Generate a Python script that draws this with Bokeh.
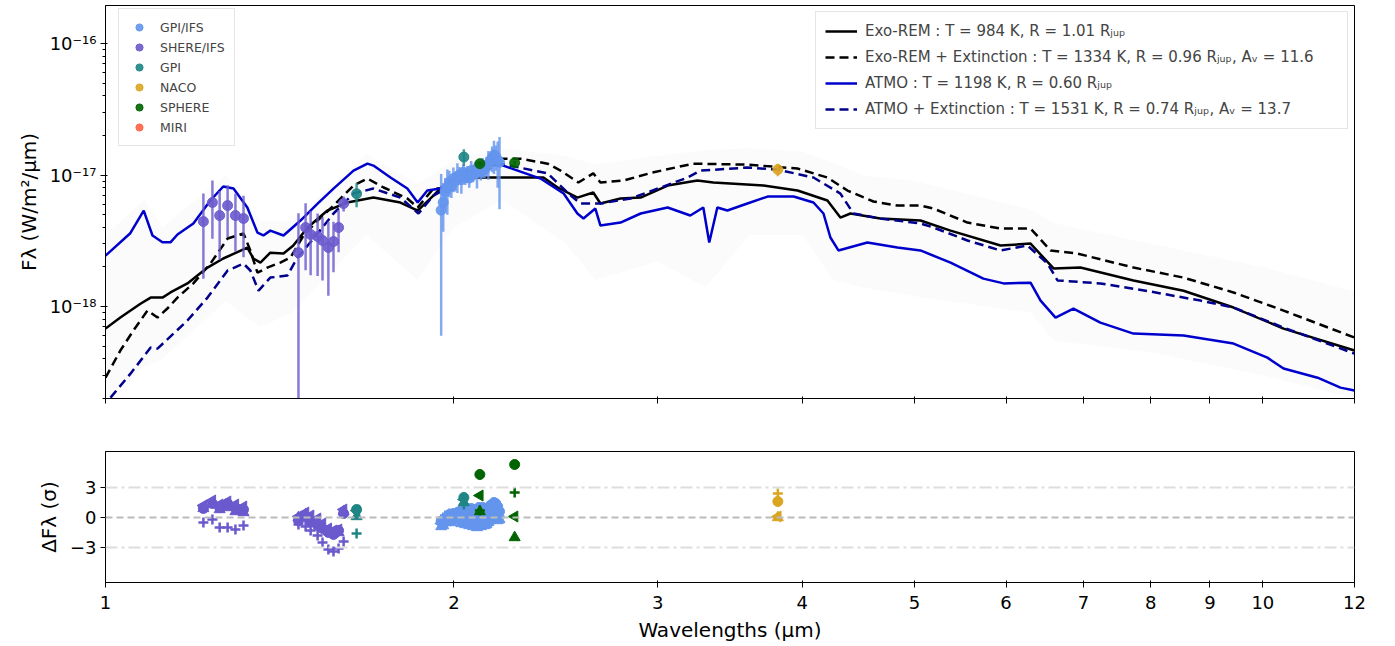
import numpy as np
from bokeh.plotting import figure
from bokeh.models import (Range1d, FixedTicker, CustomJSTickFormatter, Legend, LegendItem,
                          Span, ColumnDataSource)
from bokeh.layouts import column
from bokeh.embed import file_html
from bokeh.resources import INLINE

# ---------------- model spectra (wavelength in um, flux in W/m2/um) ----------------
exo_wl = [1.000, 1.030, 1.072, 1.094, 1.120, 1.138, 1.177, 1.225, 1.264, 1.326, 1.342, 1.361, 1.388,
          1.425, 1.453, 1.495, 1.555, 1.618, 1.704, 1.798, 1.861, 1.920, 1.950, 2.060, 2.390, 2.459,
          2.557, 2.639, 2.677, 2.786, 2.900, 3.060, 3.246, 3.351, 3.703, 3.962, 4.205, 4.315, 4.402,
          4.672, 5.060, 5.372, 5.934, 6.299, 6.594, 6.956, 7.730, 8.540, 9.433, 10.42, 12.0]
exo_f = [6.80e-19, 8.25e-19, 1.05e-18, 1.17e-18, 1.17e-18, 1.28e-18, 1.50e-18, 1.98e-18, 2.32e-18,
         2.81e-18, 2.32e-18, 2.16e-18, 2.57e-18, 2.53e-18, 2.91e-18, 3.99e-18, 5.37e-18, 6.18e-18,
         6.74e-18, 6.18e-18, 5.37e-18, 6.98e-18, 8.04e-18, 9.57e-18, 9.57e-18, 8.04e-18, 6.74e-18,
         7.36e-18, 6.07e-18, 6.63e-18, 6.74e-18, 8.32e-18, 9.08e-18, 8.77e-18, 8.32e-18, 7.62e-18,
         6.40e-18, 4.75e-18, 5.10e-18, 4.67e-18, 4.51e-18, 3.78e-18, 2.91e-18, 3.01e-18, 1.95e-18,
         1.98e-18, 1.58e-18, 1.32e-18, 9.83e-19, 6.80e-19, 4.63e-19]

exoext_wl = [1.000, 1.030, 1.057, 1.087, 1.109, 1.131, 1.154, 1.191, 1.232, 1.275, 1.316, 1.334, 1.353,
             1.380, 1.416, 1.445, 1.483, 1.525, 1.574, 1.638, 1.684, 1.739, 1.823, 1.861, 1.920, 1.947,
             2.050, 2.194, 2.284, 2.410, 2.473, 2.562, 2.639, 2.677, 2.803, 2.976, 3.220, 3.586, 3.962,
             4.205, 4.376, 4.608, 4.833, 5.060, 5.193, 5.556, 5.934, 6.299, 6.555, 6.915, 7.730, 8.540,
             9.433, 10.42, 12.0]
exoext_f = [2.88e-19, 4.63e-19, 6.57e-19, 9.32e-19, 8.25e-19, 9.66e-19, 1.17e-18, 1.50e-18, 2.12e-18,
            3.29e-18, 3.59e-18, 2.67e-18, 1.81e-18, 1.98e-18, 2.16e-18, 2.36e-18, 3.47e-18, 4.51e-18,
            5.86e-18, 8.32e-18, 9.40e-18, 8.04e-18, 6.63e-18, 5.66e-18, 7.89e-18, 7.89e-18, 1.10e-17,
            1.33e-17, 1.33e-17, 1.22e-17, 1.08e-17, 8.77e-18, 1.03e-17, 8.77e-18, 9.08e-18, 1.05e-17,
            1.22e-17, 1.20e-17, 1.12e-17, 9.57e-18, 7.62e-18, 6.29e-18, 5.86e-18, 5.86e-18, 5.56e-18,
            4.35e-18, 3.92e-18, 3.92e-18, 2.67e-18, 2.53e-18, 1.98e-18, 1.66e-18, 1.28e-18, 9.32e-19,
            5.81e-19]

atmo_wl = [1.000, 1.050, 1.079, 1.098, 1.120, 1.138, 1.154, 1.191, 1.232, 1.264, 1.290, 1.326, 1.353,
           1.369, 1.388, 1.425, 1.474, 1.525, 1.574, 1.638, 1.684, 1.704, 1.763, 1.823, 1.861, 1.897,
           1.947, 2.000, 2.109, 2.194, 2.376, 2.488, 2.557, 2.588, 2.650, 2.677, 2.786, 2.900, 3.060,
           3.201, 3.285, 3.324, 3.378, 3.446, 3.586, 3.733, 3.931, 4.090, 4.172, 4.230, 4.298, 4.553,
           4.833, 5.060, 5.372, 5.735, 5.970, 6.299, 6.426, 6.620, 6.860, 7.238, 7.730, 8.540, 9.433,
           10.09, 10.42, 11.15, 11.67, 12.0]
atmo_f = [2.44e-18, 3.59e-18, 5.37e-18, 3.47e-18, 3.08e-18, 3.08e-18, 3.53e-18, 4.28e-18, 6.40e-18,
          8.18e-18, 7.89e-18, 5.66e-18, 3.65e-18, 3.47e-18, 3.78e-18, 3.47e-18, 4.51e-18, 6.07e-18,
          7.89e-18, 1.08e-17, 1.22e-17, 1.18e-17, 9.57e-18, 7.89e-18, 6.18e-18, 7.62e-18, 7.89e-18,
          9.40e-18, 1.16e-17, 1.20e-17, 9.40e-18, 7.23e-18, 5.10e-18, 4.67e-18, 5.56e-18, 4.13e-18,
          4.35e-18, 5.10e-18, 5.66e-18, 4.92e-18, 5.66e-18, 3.07e-18, 5.66e-18, 5.37e-18, 6.07e-18,
          6.86e-18, 6.86e-18, 6.18e-18, 5.10e-18, 3.35e-18, 2.67e-18, 3.07e-18, 2.81e-18, 2.67e-18,
          2.16e-18, 1.63e-18, 1.50e-18, 1.52e-18, 1.11e-18, 8.25e-19, 9.66e-19, 7.55e-19, 6.23e-19,
          6.02e-19, 5.23e-19, 4.09e-19, 3.38e-19, 2.88e-19, 2.42e-19, 2.30e-19]

atmoext_wl = [1.010, 1.051, 1.094, 1.109, 1.177, 1.225, 1.275, 1.316, 1.334, 1.356, 1.388, 1.436, 1.465,
              1.513, 1.574, 1.638, 1.704, 1.798, 1.864, 1.920, 2.050, 2.194, 2.410, 2.507, 2.572, 2.677,
              2.842, 3.018, 3.184, 3.266, 3.586, 3.808, 4.090, 4.315, 4.428, 4.672, 5.060, 5.193, 5.556,
              5.934, 6.261, 6.516, 6.646, 7.238, 7.996, 8.834, 9.433, 10.42, 12.0]
atmoext_f = [2.03e-19, 3.09e-19, 4.88e-19, 4.79e-19, 7.83e-19, 1.17e-18, 1.88e-18, 2.12e-18, 1.88e-18,
             1.32e-18, 1.66e-18, 1.72e-18, 2.36e-18, 3.29e-18, 5.10e-18, 7.23e-18, 7.89e-18, 6.74e-18,
             5.10e-18, 6.98e-18, 9.50e-18, 1.22e-17, 1.03e-17, 7.36e-18, 6.07e-18, 6.07e-18, 6.63e-18,
             8.04e-18, 9.57e-18, 1.08e-17, 1.14e-17, 1.10e-17, 9.57e-18, 7.23e-18, 5.10e-18, 4.67e-18,
             4.28e-18, 3.99e-18, 3.18e-18, 2.67e-18, 2.91e-18, 2.12e-18, 1.58e-18, 1.50e-18, 1.30e-18,
             1.11e-18, 9.83e-19, 6.92e-19, 4.39e-19]

# spread of the sampled models (faint envelope)
band_wl = [1.0, 1.08, 1.12, 1.27, 1.36, 1.45, 1.68, 1.86, 2.0, 2.2, 2.5, 2.65, 3.0, 3.3, 3.6, 4.0,
           4.25, 4.5, 5.0, 6.3, 6.6, 8.0, 10.0, 12.0]
band_hi = [3.5e-18, 6.5e-18, 4.0e-18, 1.0e-17, 4.5e-18, 4.5e-18, 1.45e-17, 8.5e-18, 1.3e-17, 1.6e-17,
           1.4e-17, 1.2e-17, 1.4e-17, 1.55e-17, 1.6e-17, 1.5e-17, 1.25e-17, 1.0e-17, 9.0e-18, 5.5e-18,
           4.3e-18, 3.0e-18, 2.0e-18, 1.3e-18]
band_lo = [2.0e-19, 3.5e-19, 4.0e-19, 1.1e-18, 7.0e-19, 9.0e-19, 3.5e-18, 1.6e-18, 4.0e-18, 6.5e-18,
           3.0e-18, 1.6e-18, 2.2e-18, 1.4e-18, 3.5e-18, 3.5e-18, 1.6e-18, 1.4e-18, 1.2e-18, 9.0e-19,
           5.5e-19, 4.5e-19, 3.0e-19, 2.0e-19]

# ---------------- observations ----------------
gpiifs_wl = [1.950, 1.958, 1.966, 1.974, 1.982, 1.990, 1.998, 2.006, 2.014, 2.022, 2.030, 2.038, 2.046,
             2.054, 2.062, 2.070, 2.078, 2.086, 2.094, 2.102, 2.110, 2.118, 2.126, 2.134, 2.142, 2.150,
             2.158, 2.166, 2.174, 2.182, 2.190]
gpiifs_flux = [5.4e-18, 6.2e-18, 7.5e-18, 8.0e-18, 8.8e-18, 8.2e-18, 9.4e-18, 9.0e-18, 9.8e-18, 1.00e-17,
               9.2e-18, 1.05e-17, 9.6e-18, 1.02e-17, 9.5e-18, 1.08e-17, 1.00e-17, 1.10e-17, 1.04e-17,
               1.12e-17, 1.06e-17, 1.15e-17, 1.10e-17, 1.18e-17, 1.22e-17, 1.28e-17, 1.35e-17, 1.42e-17,
               1.38e-17, 1.30e-17, 1.25e-17]
gpiifs_err = [4.8e-18, 2.5e-18, 2.0e-18, 3.0e-18, 2.0e-18, 1.5e-18, 2.0e-18, 1.5e-18, 2.5e-18, 1.5e-18,
              2.0e-18, 1.5e-18, 1.2e-18, 1.5e-18, 1.5e-18, 2.0e-18, 1.2e-18, 1.5e-18, 2.5e-18, 1.5e-18,
              1.5e-18, 2.0e-18, 1.5e-18, 2.0e-18, 3.0e-18, 2.0e-18, 3.0e-18, 4.0e-18, 3.0e-18, 5.0e-18,
              7.0e-18]
gpiifs_res_exo = [-0.4, -0.3, -0.1, 0.0, 0.3, 0.1, 0.4, 0.2, 0.5, 0.6, 0.2, 0.7, 0.4, 0.6, 0.3, 0.9,
                  0.5, 0.8, 0.6, 1.0, 0.7, 1.0, 0.8, 0.9, 1.0, 1.2, 1.3, 1.5, 1.4, 1.1, 0.6]
gpiifs_res_exoext = [-0.9, -0.8, -0.5, -0.4, -0.2, -0.5, -0.1, -0.3, 0.0, -0.2, -0.6, -0.3, -0.7, -0.4,
                     -0.8, -0.5, -0.9, -0.6, -1.0, -0.7, -0.9, -0.6, -0.8, -0.7, -0.5, -0.3, -0.2, 0.0,
                     -0.1, -0.3, -0.2]
gpiifs_res_atmo = [-0.2, 0.0, 0.2, 0.1, 0.4, 0.1, 0.3, 0.0, 0.2, 0.3, -0.1, 0.2, -0.2, 0.1, -0.3, 0.0,
                   -0.4, -0.1, -0.5, -0.2, -0.4, -0.1, -0.3, -0.2, 0.0, 0.2, 0.4, 0.6, 0.5, 0.3, 0.1]
gpiifs_res_atmoext = [-0.6, -0.4, -0.2, -0.3, 0.0, -0.2, 0.1, -0.1, 0.2, 0.0, -0.3, 0.1, -0.4, -0.1,
                      -0.5, -0.2, -0.6, -0.3, -0.7, -0.4, -0.6, -0.3, -0.5, -0.4, -0.2, 0.1, 0.3, 0.5,
                      0.4, 0.2, 0.0]

sphereifs_wl = [1.215, 1.237, 1.255, 1.275, 1.295, 1.316, 1.468, 1.489, 1.504, 1.525, 1.540, 1.558,
                1.574, 1.590, 1.606]
sphereifs_flux = [4.43e-18, 6.18e-18, 4.92e-18, 5.86e-18, 4.92e-18, 4.67e-18, 2.57e-18, 3.99e-18,
                  3.53e-18, 3.41e-18, 3.18e-18, 2.81e-18, 3.12e-18, 3.99e-18, 6.07e-18]
sphereifs_err = [2.8e-18, 2.9e-18, 2.65e-18, 2.5e-18, 2.3e-18, 2.3e-18, 2.55e-18, 2.1e-18, 1.8e-18,
                 1.7e-18, 1.6e-18, 1.6e-18, 1.3e-18, 1.4e-18, 0.8e-18]
sphereifs_res_exo = [0.9, 1.4, 1.0, 1.4, 1.0, 0.8, -0.3, 0.1, -0.4, -0.8, -1.1, -1.5, -1.7, -1.3, 0.4]
sphereifs_res_exoext = [0.9, 1.3, 0.8, 1.0, 0.6, 0.5, 0.0, 0.3, -0.1, -0.6, -1.0, -1.4, -1.6, -1.5, 0.6]
sphereifs_res_atmo = [-0.5, -0.2, -1.0, -1.0, -1.2, -0.8, -0.7, -0.9, -1.3, -1.8, -2.5, -3.2, -3.4,
                      -3.1, -2.4]
sphereifs_res_atmoext = [1.2, 1.7, 1.3, 1.6, 1.3, 1.1, 0.1, 0.5, 0.2, -0.1, -0.6, -1.1, -1.3, -1.2, 0.8]

gpi_wl = [1.648, 2.040]
gpi_flux = [7.2e-18, 1.37e-17]
gpi_err = [1.5e-18, 2.0e-18]
gpi_res_exo = [0.8, 2.0]
gpi_res_exoext = [0.1, 1.5]
gpi_res_atmo = [-1.6, 1.3]
gpi_res_atmoext = [0.7, 1.8]

naco_wl = [3.81]
naco_flux = [1.10e-17]
naco_err = [1.2e-18]
naco_res_exo = [1.6]
naco_res_exoext = [0.0]
naco_res_atmo = [2.4]
naco_res_atmoext = [0.1]

sphere_wl = [2.106, 2.257]
sphere_flux = [1.22e-17, 1.24e-17]
sphere_err = [4.0e-19, 4.0e-19]
sphere_res_exo = [4.3, 5.3]
sphere_res_exoext = [0.6, -2.0]
sphere_res_atmo = [0.7, 2.5]
sphere_res_atmoext = [2.2, 0.1]

x_ticks = [1, 2, 3, 4, 5, 6, 7, 8, 9, 10, 12]
res_ticks = [-3, 0, 3]

model_labels = [
    "Exo-REM : T = 984 K, R = 1.01 R\u2c7c\u1d64\u209a",
    "Exo-REM + Extinction : T = 1334 K, R = 0.96 R\u2c7c\u1d64\u209a, A\u1d65 = 11.6",
    "ATMO : T = 1198 K, R = 0.60 R\u2c7c\u1d64\u209a",
    "ATMO + Extinction : T = 1531 K, R = 0.74 R\u2c7c\u1d64\u209a, A\u1d65 = 13.7",
]

FONT = "DejaVu Sans"

xr = Range1d(1, 12)
p1 = figure(x_axis_type="log", y_axis_type="log", x_range=xr, y_range=Range1d(2.0e-19, 1.945e-16),
            frame_width=1249, frame_height=393, min_border_left=105, min_border_right=30,
            min_border_top=5, min_border_bottom=20, output_backend="svg", toolbar_location=None)
p2 = figure(x_axis_type="log", x_range=xr, y_range=Range1d(-6.5, 6.6),
            frame_width=1249, frame_height=131, min_border_left=105, min_border_right=30,
            min_border_top=33, min_border_bottom=58, output_backend="svg", toolbar_location=None)

for p in (p1, p2):
    p.grid.visible = False
    p.outline_line_color = "black"
    p.outline_line_alpha = 1
    p.outline_line_width = 1
    p.background_fill_color = "white"
    p.border_fill_color = "white"
    p.xaxis.ticker = FixedTicker(ticks=x_ticks, minor_ticks=[])
    for ax in (p.xaxis, p.yaxis):
        ax.axis_line_color = "black"
        ax.major_tick_line_color = "black"
        ax.minor_tick_line_color = "black"
        ax.major_label_text_font = FONT
        ax.major_label_text_font_size = "18px"
        ax.major_label_text_color = "black"
        ax.axis_label_text_font = FONT
        ax.axis_label_text_font_size = "20px"
        ax.axis_label_text_font_style = "normal"
        ax.axis_label_text_color = "black"
        ax.major_tick_out = 5
        ax.minor_tick_out = 3
        ax.major_label_standoff = 4
        ax.axis_label_standoff = 6

p1.xaxis.formatter = CustomJSTickFormatter(code="return '';")
p2.xaxis.formatter = CustomJSTickFormatter(code="return String(tick);")
p2.xaxis.major_label_standoff = 8
p1.yaxis.axis_label = "F\u03bb (W/m\u00b2/\u03bcm)"
p1.yaxis.formatter = CustomJSTickFormatter(code="""
const e = Math.round(Math.log10(tick));
const sup = {'-':'\u207b','0':'\u2070','1':'\u00b9','2':'\u00b2','3':'\u00b3','4':'\u2074',
             '5':'\u2075','6':'\u2076','7':'\u2077','8':'\u2078','9':'\u2079'};
return '10' + String(e).split('').map(c => sup[c]).join('');
""")

p2.yaxis.ticker = FixedTicker(ticks=res_ticks, minor_ticks=[])
p2.yaxis.axis_label = "\u0394F\u03bb (\u03c3)"
p2.xaxis.axis_label = "Wavelengths (\u03bcm)"

# ---------------- top panel ----------------
p1.varea(x=band_wl, y1=band_lo, y2=band_hi, fill_color="#9a9aa8", fill_alpha=0.045)

r_exo = p1.line(exo_wl, exo_f, line_color="black", line_width=2.5)
r_exoext = p1.line(exoext_wl, exoext_f, line_color="black", line_width=2.5, line_dash="9 5")
r_atmo = p1.line(atmo_wl, atmo_f, line_color="#0000cd", line_width=2.5)
r_atmoext = p1.line(atmoext_wl, atmoext_f, line_color="#00008b", line_width=2.5, line_dash="9 5")

instruments = [
    ("GPI/IFS", "#6495ed", gpiifs_wl, gpiifs_flux, gpiifs_err,
     gpiifs_res_exo, gpiifs_res_exoext, gpiifs_res_atmo, gpiifs_res_atmoext),
    ("SHERE/IFS", "#6a5acd", sphereifs_wl, sphereifs_flux, sphereifs_err,
     sphereifs_res_exo, sphereifs_res_exoext, sphereifs_res_atmo, sphereifs_res_atmoext),
    ("GPI", "#1f8585", gpi_wl, gpi_flux, gpi_err,
     gpi_res_exo, gpi_res_exoext, gpi_res_atmo, gpi_res_atmoext),
    ("NACO", "#daa520", naco_wl, naco_flux, naco_err,
     naco_res_exo, naco_res_exoext, naco_res_atmo, naco_res_atmoext),
    ("SPHERE", "#006400", sphere_wl, sphere_flux, sphere_err,
     sphere_res_exo, sphere_res_exoext, sphere_res_atmo, sphere_res_atmoext),
]

inst_items = []
for name, col, wl, fl, er, r1, r2, r3, r4 in instruments:
    fl_a = np.array(fl)
    er_a = np.array(er)
    src = ColumnDataSource(dict(x=wl, y=fl, lo=fl_a - er_a, hi=fl_a + er_a))
    p1.segment(x0="x", y0="lo", x1="x", y1="hi", source=src, line_color=col,
               line_width=2.5, line_alpha=0.8)
    r = p1.scatter(x="x", y="y", source=src, marker="circle", size=10, fill_color=col,
                   line_color=col, fill_alpha=0.9, line_alpha=0.9)
    inst_items.append(LegendItem(label=name, renderers=[r]))
    # residuals
    p2.scatter(wl, r1, marker="circle", size=10, fill_color=col, line_color=col)
    p2.scatter(wl, r2, marker="triangle", size=11, fill_color=col, line_color=col)
    p2.scatter(wl, r3, marker="cross", size=10, line_color=col, line_width=2.5)
    p2.scatter(wl, r4, marker="triangle", size=11, angle=np.pi / 2, fill_color=col, line_color=col)

r_miri = p1.scatter(x=[np.nan], y=[np.nan], marker="circle", size=10, fill_color="tomato",
                    line_color="tomato", fill_alpha=0.9, line_alpha=0.9)
inst_items.append(LegendItem(label="MIRI", renderers=[r_miri]))

leg1 = Legend(items=inst_items, location=(13, 252), margin=0,
              label_text_font=FONT, label_text_font_size="12.5px", glyph_height=18, label_height=18,
              glyph_width=22, spacing=2, padding=9, label_standoff=10,
              border_line_color="#cccccc", border_line_width=1, background_fill_alpha=0.85)
leg2 = Legend(items=[LegendItem(label=model_labels[0], renderers=[r_exo]),
                     LegendItem(label=model_labels[1], renderers=[r_exoext]),
                     LegendItem(label=model_labels[2], renderers=[r_atmo]),
                     LegendItem(label=model_labels[3], renderers=[r_atmoext])],
              location="top_right", margin=6,
              label_text_font=FONT, label_text_font_size="15px", glyph_height=20, label_height=20,
              glyph_width=32, spacing=6, padding=9, label_standoff=8, label_width=473,
              border_line_color="#cccccc", border_line_width=1, background_fill_alpha=0.85)
p1.add_layout(leg1, "center")
p1.add_layout(leg2, "center")

# ---------------- residual reference lines ----------------
p2.add_layout(Span(location=0, dimension="width", line_color="#bbbbbb", line_width=2,
                   line_dash="7 4"))
for v in (3, -3):
    p2.add_layout(Span(location=v, dimension="width", line_color="#dddddd", line_width=2,
                       line_dash="12 4 3 4"))

layout = column(p1, p2, spacing=0)
open("out.html", "w").write(file_html(layout, INLINE))
